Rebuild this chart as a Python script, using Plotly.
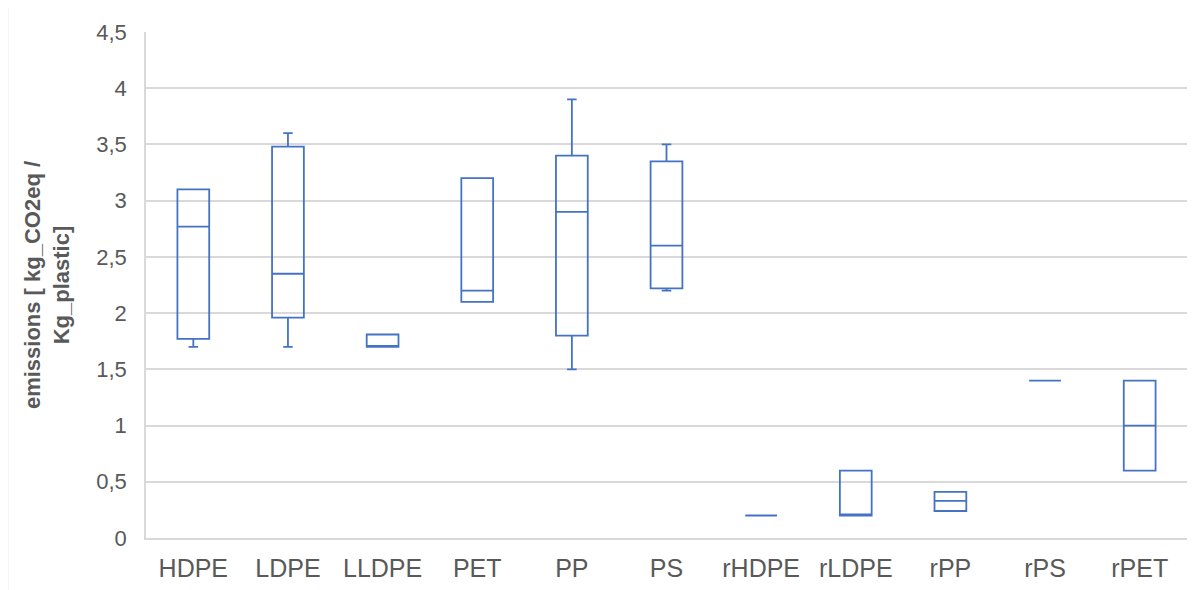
import plotly.graph_objects as go

categories = ["HDPE", "LDPE", "LLDPE", "PET", "PP", "PS", "rHDPE", "rLDPE", "rPP", "rPS", "rPET"]
lower_fence = [1.70, 1.70, 1.70, 2.10, 1.50, 2.20, 0.20, 0.20, 0.24, 1.40, 0.60]
q1_values   = [1.77, 1.96, 1.70, 2.10, 1.80, 2.22, 0.20, 0.20, 0.24, 1.40, 0.60]
median_vals = [2.77, 2.35, 1.70, 2.20, 2.90, 2.60, 0.20, 0.20, 0.33, 1.40, 1.00]
q3_values   = [3.10, 3.48, 1.81, 3.20, 3.40, 3.35, 0.20, 0.60, 0.41, 1.40, 1.40]
upper_fence = [3.10, 3.60, 1.81, 3.20, 3.90, 3.50, 0.20, 0.60, 0.41, 1.40, 1.40]

BLUE = "#4472C4"
GRID = "#d9d9d9"
TXT = "#595959"
FONT = "Liberation Sans, Arial, sans-serif"

fig = go.Figure()
fig.add_trace(go.Box(
    x=categories,
    lowerfence=lower_fence,
    q1=q1_values,
    median=median_vals,
    q3=q3_values,
    upperfence=upper_fence,
    boxpoints=False,
    line=dict(color=BLUE, width=1.8),
    fillcolor="rgba(255,255,255,0)",
    whiskerwidth=0.3,
    showlegend=False,
    hoverinfo="skip",
))

fig.update_layout(
    width=1195, height=590,
    margin=dict(l=138, r=16, t=24, b=60),
    paper_bgcolor="white", plot_bgcolor="white",
    separators=",.",
    boxgap=0.52,
    font=dict(family=FONT, color=TXT),
    xaxis=dict(
        type="category",
        showgrid=False,
        showline=True, linecolor=GRID, linewidth=1.5,
        ticks="",
        ticklabelstandoff=7,
        tickfont=dict(size=25, color=TXT, family=FONT),
    ),
    yaxis=dict(
        range=[0, 4.5],
        tick0=0, dtick=0.5,
        showgrid=True, gridcolor=GRID, gridwidth=1.5,
        zeroline=False,
        showline=True, linecolor=GRID, linewidth=1.5,
        ticks="",
        ticklabelstandoff=13,
        tickfont=dict(size=22, color=TXT, family=FONT),
    ),
    annotations=[dict(
        text="<b>emissions [ kg_CO2eq /<br>Kg_plastic]</b>",
        xref="paper", yref="paper",
        x=-0.095, y=0.5,
        xanchor="center", yanchor="middle",
        textangle=-90,
        showarrow=False,
        font=dict(size=22, color=TXT, family=FONT),
    )],
    shapes=[
        dict(type="line", xref="paper", yref="paper",
             x0=-0.133, x1=1.02, y0=1.053, y1=1.053,
             line=dict(color="#e0e0e0", width=1.5)),
        dict(type="line", xref="paper", yref="paper",
             x0=-0.133, x1=-0.133, y0=1.053, y1=-0.11,
             line=dict(color="#e0e0e0", width=1.5)),
    ],
)

fig.write_html("out.html")
